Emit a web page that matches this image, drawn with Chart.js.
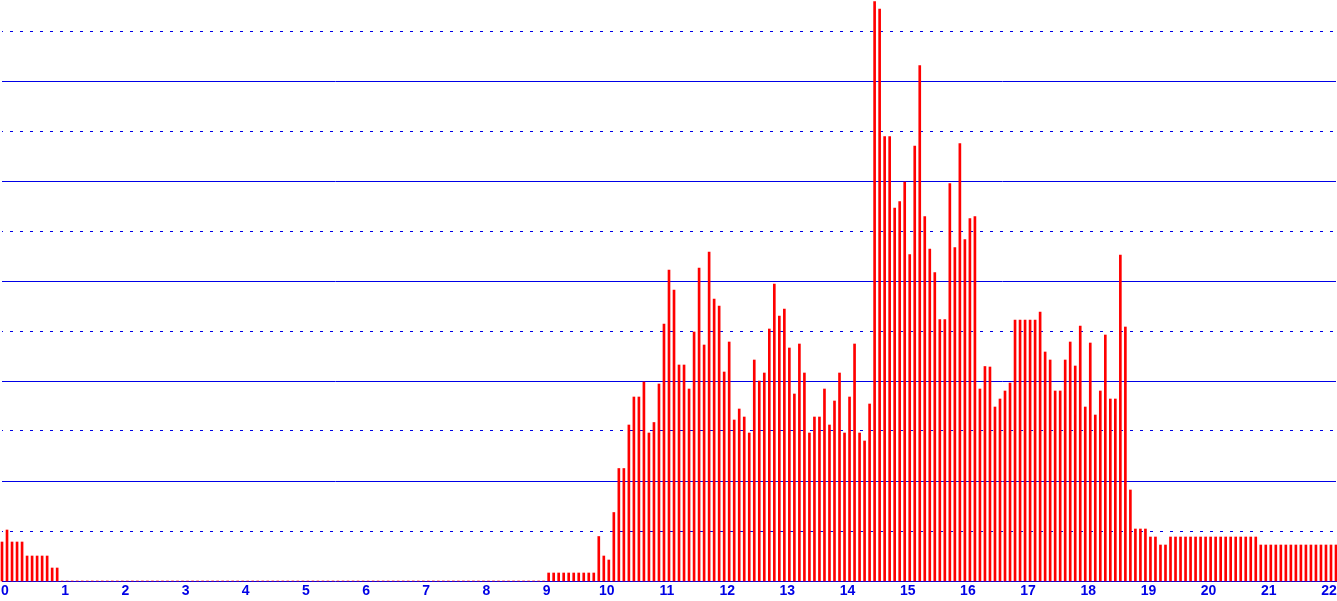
<!DOCTYPE html>
<html lang="en">
<head>
<meta charset="UTF-8">
<title>Counts per 5 minutes</title>
<script src="https://cdn.jsdelivr.net/npm/chart.js"></script>
<style>
  html, body { margin: 0; padding: 0; background: #fff; }
  #chart { display: block; }
</style>
</head>
<body>
<canvas id="chart" width="1337" height="601"></canvas>
<script>
// tick labels on the time axis (one per hour)
const hourTicks = ['0', '1', '2', '3', '4', '5', '6', '7', '8', '9', '10', '11',
                   '12', '13', '14', '15', '16', '17', '18', '19', '20', '21', '22'];
const minuteSteps = ['00', '05', '10', '15', '20', '25', '30', '35', '40', '45', '50', '55'];

// one value per 5 minute slot, one row per hour
const counts = [
  7.8, 10.2, 7.8, 7.8, 7.8, 5.0, 5.0, 5.0, 5.0, 5.0, 2.6, 2.6,            // 0
  0, 0, 0, 0, 0, 0, 0, 0, 0, 0, 0, 0,                                     // 1
  0, 0, 0, 0, 0, 0, 0, 0, 0, 0, 0, 0,                                     // 2
  0, 0, 0, 0, 0, 0, 0, 0, 0, 0, 0, 0,                                     // 3
  0, 0, 0, 0, 0, 0, 0, 0, 0, 0, 0, 0,                                     // 4
  0, 0, 0, 0, 0, 0, 0, 0, 0, 0, 0, 0,                                     // 5
  0, 0, 0, 0, 0, 0, 0, 0, 0, 0, 0, 0,                                     // 6
  0, 0, 0, 0, 0, 0, 0, 0, 0, 0, 0, 0,                                     // 7
  0, 0, 0, 0, 0, 0, 0, 0, 0, 0, 0, 0,                                     // 8
  0, 1.6, 1.6, 1.6, 1.6, 1.6, 1.6, 1.6, 1.6, 1.6, 1.6, 8.9,               // 9
  5.0, 4.2, 13.7, 22.5, 22.5, 31.2, 36.8, 36.8, 39.8, 29.6, 31.7, 39.4,   // 10
  51.4, 62.2, 58.2, 43.2, 43.2, 38.4, 49.8, 62.6, 47.2, 65.8, 56.4, 55.0, // 11
  41.8, 47.8, 32.2, 34.4, 32.8, 29.6, 44.2, 40.0, 41.6, 50.4, 59.4, 53.0, // 12
  54.4, 46.6, 37.4, 47.4, 41.6, 29.6, 32.8, 32.8, 38.4, 31.2, 36.0, 41.6, // 13
  29.6, 36.8, 47.4, 29.6, 28.0, 35.4, 115.9, 114.4, 88.9, 88.9, 74.6, 75.9, // 14
  79.8, 65.3, 87.0, 103.1, 72.9, 66.4, 61.7, 52.3, 52.3, 79.5, 66.7, 87.5, // 15
  68.3, 72.5, 72.9, 38.4, 42.9, 42.8, 34.8, 36.4, 38.0, 39.6, 52.2, 52.2, // 16
  52.2, 52.2, 52.2, 53.8, 45.8, 44.2, 38.0, 38.0, 44.2, 47.8, 43.0, 51.0, // 17
  34.8, 47.6, 33.2, 38.0, 49.2, 36.4, 36.4, 65.2, 50.8, 18.2, 10.4, 10.4, // 18
  10.4, 8.8, 8.8, 7.2, 7.2, 8.8, 8.8, 8.8, 8.8, 8.8, 8.8, 8.8,            // 19
  8.8, 8.8, 8.8, 8.8, 8.8, 8.8, 8.8, 8.8, 8.8, 8.8, 8.8, 7.2,             // 20
  7.2, 7.2, 7.2, 7.2, 7.2, 7.2, 7.2, 7.2, 7.2, 7.2, 7.2, 7.2,             // 21
  7.2, 7.2, 7.2                                                           // 22
];

// horizontal guide lines: solid ones and dotted ones
const solidGrid = [20, 40, 60, 80, 100];
const dottedGrid = [10, 30, 50, 70, 90, 110];
const yMax = 116.2;

const lineBlue = '#0000e6';

const slotLabels = [];
hourTicks.forEach(h => {
  minuteSteps.forEach(m => {
    if (slotLabels.length < counts.length) slotLabels.push(h + ':' + m);
  });
});

function noWidth(scale) { scale.width = 0; }

new Chart(document.getElementById('chart'), {
  type: 'bar',
  data: {
    labels: slotLabels,
    datasets: [{
      data: counts,
      backgroundColor: '#ff0000',
      borderWidth: 0,
      barThickness: 2,
      clip: 3
    }]
  },
  options: {
    responsive: false,
    animation: false,
    devicePixelRatio: 1,
    layout: { padding: { left: 2, right: 1, top: 0, bottom: 0 } },
    plugins: {
      legend: { display: false },
      tooltip: { enabled: false }
    },
    scales: {
      x: {
        offset: false,
        grid: { display: false, offset: false },
        border: { display: true, color: lineBlue, width: 1 },
        ticks: {
          autoSkip: false,
          maxRotation: 0,
          minRotation: 0,
          padding: -6,
          labelOffset: 3,
          color: lineBlue,
          font: { family: 'Liberation Sans', size: 14, weight: 'bold' },
          callback: (value, index) => index % 12 === 0 ? hourTicks[index / 12] : ''
        },
        afterFit: s => { s.height = 20; s.paddingLeft = 0; s.paddingRight = 0; }
      },
      y: {
        min: 0,
        max: yMax,
        grid: { color: lineBlue, lineWidth: 1, drawTicks: false },
        border: { display: false },
        ticks: { display: false },
        afterBuildTicks: s => { s.ticks = solidGrid.map(v => ({ value: v })); },
        afterFit: noWidth
      },
      y2: {
        position: 'left',
        min: 0,
        max: yMax,
        grid: { color: lineBlue, lineWidth: 1, drawTicks: false },
        border: { display: false, dash: [3, 7], dashOffset: 2 },
        ticks: { display: false },
        afterBuildTicks: s => { s.ticks = dottedGrid.map(v => ({ value: v })); },
        afterFit: noWidth
      }
    }
  }
});
</script>
</body>
</html>
